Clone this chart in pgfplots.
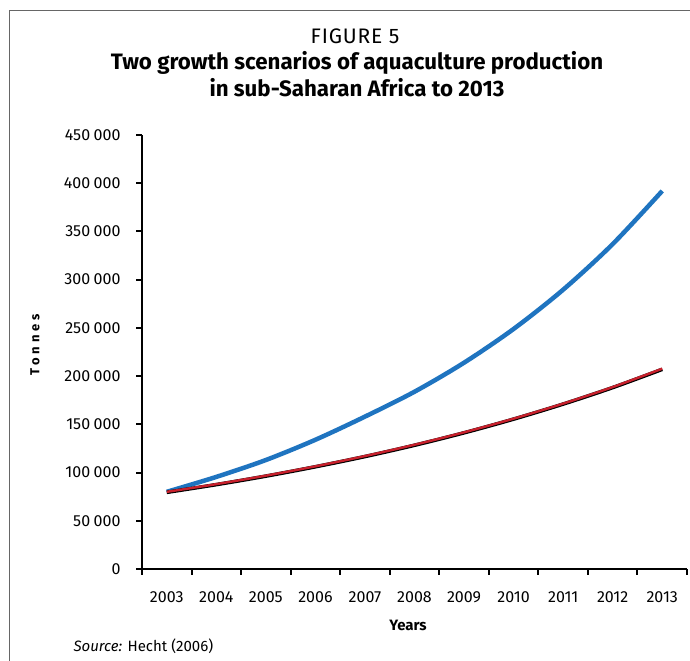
\documentclass[border=0pt]{standalone}
\usepackage{pgfplots}
\pgfplotsset{compat=1.18}
\usepackage{fontspec}
\setmainfont{Fira Sans}
\definecolor{cblue}{RGB}{31,116,192}
\definecolor{cred}{RGB}{200,32,44}
\newcommand{\ts}{\hspace{0.22em}}
\begin{document}
\begin{tikzpicture}[x=1bp,y=1bp]
\path[use as bounding box] (0,0) rectangle (690,661);
\draw[gray!80!black,line width=0.8bp] (9.5,0) -- (9.5,651) -- (690,651);
\node[anchor=base,font=\fontsize{21bp}{24bp}\selectfont\addfontfeature{LetterSpace=4}] at (355,617) {FIGURE 5};
\node[anchor=base,font=\fontsize{22.3bp}{26bp}\selectfont\bfseries] at (357,591) {Two growth scenarios of aquaculture production};
\node[anchor=base,font=\fontsize{22.3bp}{26bp}\selectfont\bfseries] at (357,564) {in sub-Saharan Africa to 2013};
\node[anchor=base west,font=\fontsize{15bp}{16bp}\selectfont] at (70,9) {\textit{Source:} Hecht (2006)};
\node[font=\fontsize{15bp}{18bp}\selectfont\bfseries] at (408,36) {Years};
\node[rotate=90,font=\fontsize{13bp}{16bp}\selectfont\bfseries\addfontfeature{LetterSpace=28}] at (35,316) {Tonnes};
\begin{axis}[
  at={(142bp,92bp)}, anchor=south west,
  scale only axis, width=545bp, height=434bp,
  xmin=0, xmax=11, ymin=0, ymax=450000,
  axis x line*=bottom, axis y line*=left,
  axis line style={line width=2.4bp,-},
  tick style={line width=2bp,black},
  tick align=outside, major tick length=6bp,
  xtick={0,1,...,11}, xticklabels={},
  extra x ticks={0.5,1.5,...,10.5},
  extra x tick labels={2003,2004,2005,2006,2007,2008,2009,2010,2011,2012,2013},
  extra x tick style={major tick length=0pt, tick style={draw=none}},
  ytick={0,50000,100000,150000,200000,250000,300000,350000,400000,450000},
  yticklabels={0,50\ts000,100\ts000,150\ts000,200\ts000,250\ts000,300\ts000,350\ts000,400\ts000,450\ts000},
  scaled y ticks=false, scaled x ticks=false,
  yticklabel style={font=\fontsize{16bp}{18bp}\selectfont, xshift=-12bp},
  xticklabel style={font=\fontsize{16bp}{18bp}\selectfont, yshift=-19bp},
  clip=false,
]
\addplot[cblue, line width=4.5bp, smooth] coordinates {
 (0.5,80000) (1.5,95500) (2.5,113000) (3.5,134000) (4.5,158000) (5.5,183800)
 (6.5,213900) (7.5,248900) (8.5,289600) (9.5,336900) (10.5,392000)};
\addplot[black, line width=3.6bp, smooth] coordinates {
 (0.5,79500) (1.5,87500) (2.5,96300) (3.5,106000) (4.5,116600) (5.5,128300)
 (6.5,141200) (7.5,155400) (8.5,171000) (9.5,188100) (10.5,207000)};
\addplot[cred, line width=2.4bp, smooth] coordinates {
 (0.5,80000) (1.5,88000) (2.5,96800) (3.5,106480) (4.5,117128) (5.5,128841)
 (6.5,141725) (7.5,155897) (8.5,171487) (9.5,188636) (10.5,207700)};
\end{axis}
\end{tikzpicture}
\end{document}
